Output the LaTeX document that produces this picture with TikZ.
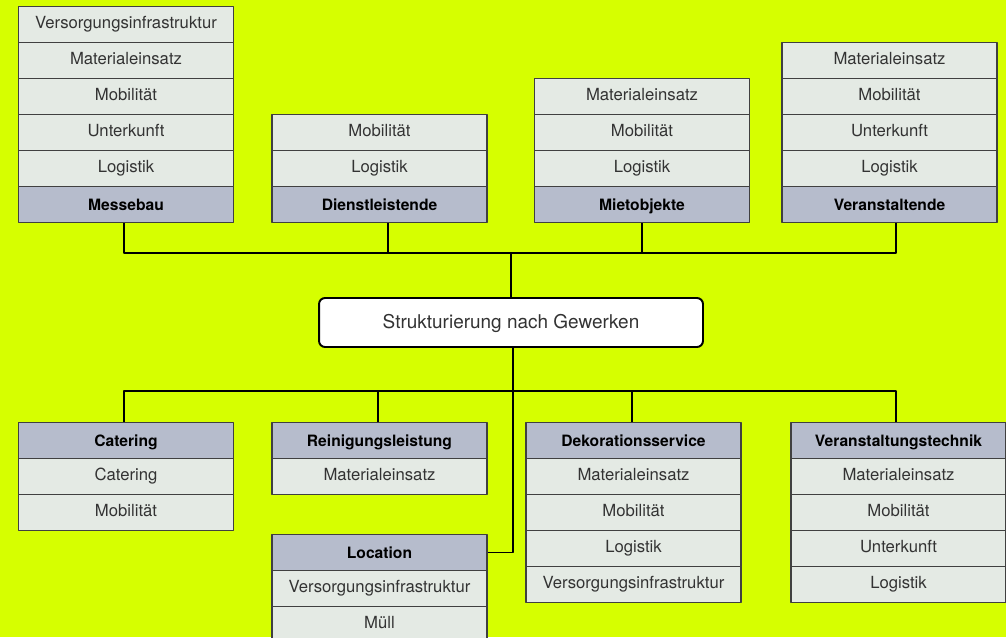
\documentclass[tikz,border=0pt]{standalone}
\usepackage{fontspec}
\setmainfont{TeX Gyre Heros}
\definecolor{hintergrund}{RGB}{214,255,0}
\definecolor{zeile}{RGB}{228,234,228}
\definecolor{kopf}{RGB}{182,188,204}
\definecolor{rand}{RGB}{64,64,64}
\definecolor{schrift}{RGB}{51,51,51}
\begin{document}
\begin{tikzpicture}[x=0.02cm,y=-0.02cm,line join=round,
	zeilebox/.style={draw=rand,fill=zeile,line width=0.7pt,minimum width=4.3cm,
		minimum height=0.72cm,inner sep=0,text=schrift,text height=0.72em,text depth=0.3em,
		font=\fontsize{9.5}{11}\selectfont},
	kopfbox/.style={zeilebox,fill=kopf,text=black,text depth=0pt,
		font=\fontsize{8.9}{11}\selectfont\bfseries},
	linie/.style={line width=1.1pt,black}]
	\fill[hintergrund](0,0)rectangle(1006,637);
	\useasboundingbox(0,0)rectangle(1006,637);
	% obere Reihe
	\path(126,24.5)node[zeilebox](mb1){Versorgungsinfrastruktur}
	++(0,36)node[zeilebox](mb2){Materialeinsatz}
	++(0,36)node[zeilebox](mb3){Mobilität}
	++(0,36)node[zeilebox](mb4){Unterkunft}
	++(0,36)node[zeilebox](mb5){Logistik}
	++(0,36)node[kopfbox](mb){Messebau}
	;
	\path(379.5,132.5)node[zeilebox](dl1){Mobilität}
	++(0,36)node[zeilebox](dl2){Logistik}
	++(0,36)node[kopfbox](dl){Dienstleistende}
	;
	\path(642,96.5)node[zeilebox](mo1){Materialeinsatz}
	++(0,36)node[zeilebox](mo2){Mobilität}
	++(0,36)node[zeilebox](mo3){Logistik}
	++(0,36)node[kopfbox](mo){Mietobjekte}
	;
	\path(889.5,60.5)node[zeilebox](va1){Materialeinsatz}
	++(0,36)node[zeilebox](va2){Mobilität}
	++(0,36)node[zeilebox](va3){Unterkunft}
	++(0,36)node[zeilebox](va4){Logistik}
	++(0,36)node[kopfbox](va){Veranstaltende}
	;
	% Mitte
	\node[draw,fill=white,rounded corners=0.12cm,line width=1.1pt,minimum width=7.68cm,
	minimum height=0.98cm,text=schrift,text height=0.72em,text depth=0.05em,
	font=\fontsize{10.8}{13}\selectfont](sg)at(511,322.5){Strukturierung nach Gewerken};
	% untere Reihe
	\path(126,440.5)node[kopfbox](ca){Catering}
	++(0,36)node[zeilebox](ca1){Catering}
	++(0,36)node[zeilebox](ca2){Mobilität}
	;
	\path(379.5,440.5)node[kopfbox](rl){Reinigungsleistung}
	++(0,36)node[zeilebox](rl1){Materialeinsatz}
	;
	\path(379.5,552.5)node[kopfbox](lo){Location}
	++(0,36)node[zeilebox](lo1){Versorgungsinfrastruktur}
	++(0,36)node[zeilebox](lo2){Müll}
	;
	\path(633.5,440.5)node[kopfbox](ds){Dekorationsservice}
	++(0,36)node[zeilebox](ds1){Materialeinsatz}
	++(0,36)node[zeilebox](ds2){Mobilität}
	++(0,36)node[zeilebox](ds3){Logistik}
	++(0,36)node[zeilebox](ds4){Versorgungsinfrastruktur}
	;
	\path(898.5,440.5)node[kopfbox](vt){Veranstaltungstechnik}
	++(0,36)node[zeilebox](vt1){Materialeinsatz}
	++(0,36)node[zeilebox](vt2){Mobilität}
	++(0,36)node[zeilebox](vt3){Unterkunft}
	++(0,36)node[zeilebox](vt4){Logistik}
	;
	% Verbindungen
	\coordinate(bo)at(511,253);
	\coordinate(bu)at(513,391);
	\draw[linie]([xshift=-0.04cm]mb.south)|-(bo);
	\draw[linie]([xshift=0.17cm]dl.south)|-(bo);
	\draw[linie](mo.south)|-(bo);
	\draw[linie]([xshift=0.13cm]va.south)|-(bo);
	\draw[linie](bo)--(sg.north);
	\draw[linie]([xshift=0.04cm]sg.south)|-(lo.east);
	\draw[linie]([xshift=-0.04cm]ca.north)|-(bu);
	\draw[linie]([xshift=-0.03cm]rl.north)|-(bu);
	\draw[linie]([xshift=-0.03cm]ds.north)|-(bu);
	\draw[linie]([xshift=-0.05cm]vt.north)|-(bu);
\end{tikzpicture}
\end{document}
